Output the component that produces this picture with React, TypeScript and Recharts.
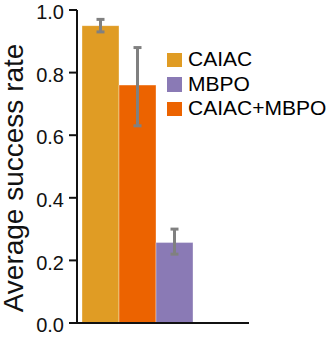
import React from 'react';
import { BarChart, Bar, XAxis, YAxis, Cell, ErrorBar, Legend, Label } from 'recharts';

// Categories in drawing order (left to right)
const methods = ['CAIAC', 'CAIAC+MBPO', 'MBPO'];
const successRates = [0.95, 0.76, 0.257];
const errorLow = [0.02, 0.13, 0.037];
const errorHigh = [0.02, 0.12, 0.043];
const methodColors = ['#E09C24', '#EC6300', '#8A7AB5'];
const legendOrder = ['CAIAC', 'MBPO', 'CAIAC+MBPO'];
const yTicks = [0, 0.2, 0.4, 0.6, 0.8, 1.0];

const data = methods.map((m, i) => ({
  name: m,
  value: successRates[i],
  err: [errorLow[i], errorHigh[i]],
}));

const FONT = '"Liberation Sans", Arial, Helvetica, sans-serif';

const LegendContent = () => (
  <div style={{ fontFamily: FONT, fontSize: 21, color: '#000' }}>
    {legendOrder.map((name) => {
      const color = methodColors[methods.indexOf(name)];
      return (
        <div key={name} style={{ display: 'flex', alignItems: 'center', height: 24.5, lineHeight: '24.5px', whiteSpace: 'nowrap' }}>
          <span style={{ display: 'inline-block', width: 14.5, height: 14.5, background: color, marginRight: 6.5, marginTop: 1 }} />
          <span>{name}</span>
        </div>
      );
    })}
  </div>
);

export default function App() {
  return (
    <div style={{ position: 'absolute', left: 0, top: 0, width: 334, height: 339, background: '#fff' }}>
      <BarChart
        width={334}
        height={339}
        data={data}
        margin={{ top: 10, right: 85, bottom: 15, left: 0 }}
        barCategoryGap={0}
        barGap={0}
      >
        <XAxis
          dataKey="name"
          tick={false}
          tickLine={false}
          height={1}
          padding={{ left: 5, right: 56 }}
          axisLine={{ stroke: '#111', strokeWidth: 2 }}
        />
        <YAxis
          width={77}
          domain={[0, 1]}
          ticks={yTicks}
          interval={0}
          tickFormatter={(v: number) => v.toFixed(1)}
          tickSize={8}
          tickMargin={5}
          tick={{ fontSize: 20, fill: '#111', fontFamily: FONT, dy: 2 }}
          tickLine={{ stroke: '#111', strokeWidth: 2 }}
          axisLine={{ stroke: '#111', strokeWidth: 2 }}
        >
          <Label
            value="Average success rate"
            angle={-90}
            position="center"
            dx={-25.5}
            dy={11.5}
            style={{ fontSize: 28, fill: '#111', fontFamily: FONT, textAnchor: 'middle' }}
          />
        </YAxis>
        <Legend
          layout="vertical"
          align="center"
          verticalAlign="middle"
          wrapperStyle={{ left: 167, top: 47, width: 'auto' }}
          content={<LegendContent />}
        />
        <Bar dataKey="value" isAnimationActive={false} stroke="rgba(255,255,255,0.35)" strokeWidth={1}>
          {data.map((d, i) => (
            <Cell key={d.name} fill={methodColors[i]} />
          ))}
          <ErrorBar dataKey="err" width={4} strokeWidth={3} stroke="#808080" direction="y" />
        </Bar>
      </BarChart>
    </div>
  );
}
